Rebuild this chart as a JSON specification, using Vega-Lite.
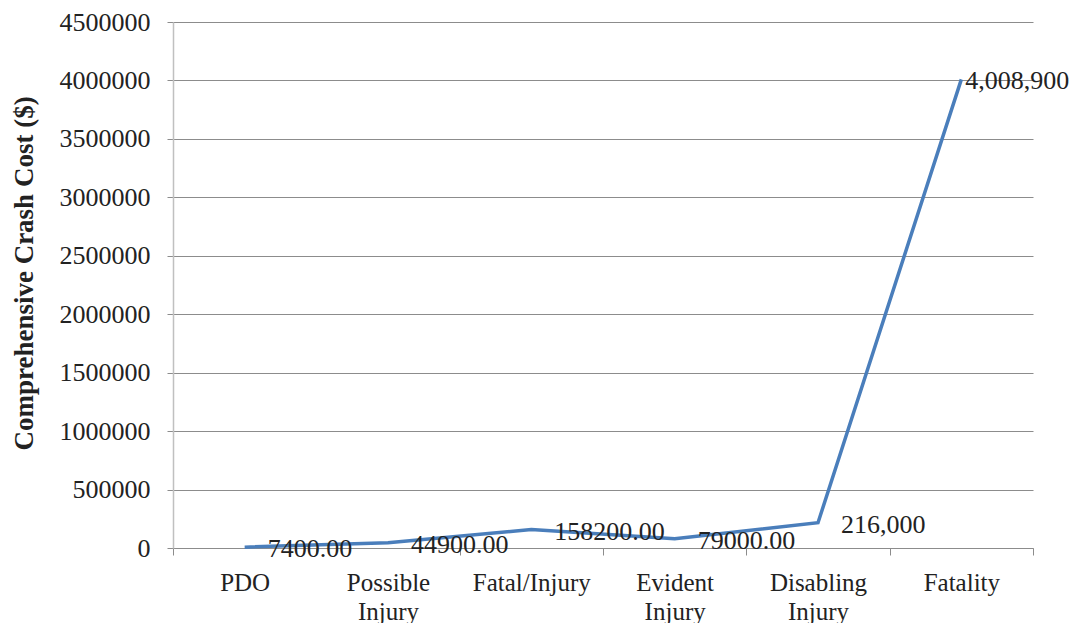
{
  "$schema": "https://vega.github.io/schema/vega-lite/v6.json",
  "width": 860,
  "height": 526,
  "autosize": {"type": "none"},
  "padding": {"left": 173, "top": 22, "right": 48, "bottom": 75},
  "background": "white",
  "config": {
    "view": {"stroke": null},
    "font": "'Times New Roman', 'Liberation Serif', Tinos, 'DejaVu Serif', serif"
  },
  "data": {
    "values": [
      {"category": "PDO", "cost": 7400, "label": "7400.00"},
      {"category": "Possible Injury", "cost": 44900, "label": "44900.00"},
      {"category": "Fatal/Injury", "cost": 158200, "label": "158200.00"},
      {"category": "Evident Injury", "cost": 79000, "label": "79000.00"},
      {"category": "Disabling Injury", "cost": 216000, "label": "216,000"},
      {"category": "Fatality", "cost": 4008900, "label": "4,008,900"}
    ]
  },
  "encoding": {
    "x": {
      "field": "category",
      "type": "nominal",
      "sort": null,
      "bandPosition": 0.5,
      "scale": {"type": "band", "paddingInner": 0, "paddingOuter": 0},
      "axis": {
        "title": null,
        "grid": false,
        "tickBand": "extent",
        "domainColor": "#8c8c8c",
        "tickColor": "#8c8c8c",
        "tickSize": 7,
        "labelAngle": 0,
        "labelFontSize": 25,
        "labelColor": "#222222",
        "labelPadding": 15,
        "labelLineHeight": 29,
        "labelExpr": "split(datum.label, ' ')"
      }
    },
    "y": {
      "field": "cost",
      "type": "quantitative",
      "scale": {"domain": [0, 4500000], "nice": false},
      "axis": {
        "title": "Comprehensive Crash Cost ($)",
        "titleFontSize": 27,
        "titleFontWeight": "bold",
        "titleColor": "#222222",
        "titleX": -149,
        "titleY": 251,
        "titleAngle": 270,
        "titleAlign": "center",
        "titleBaseline": "middle",
        "values": [0, 500000, 1000000, 1500000, 2000000, 2500000, 3000000, 3500000, 4000000, 4500000],
        "format": "d",
        "grid": true,
        "gridColor": "#8c8c8c",
        "gridWidth": 1,
        "domainColor": "#c0c0c0",
        "domainWidth": 1.5,
        "tickColor": "#8c8c8c",
        "tickSize": 6,
        "labelFontSize": 26,
        "labelColor": "#222222",
        "labelPadding": 17
      }
    }
  },
  "layer": [
    {
      "mark": {"type": "line", "color": "#4A7EBB", "strokeWidth": 3.5}
    },
    {
      "transform": [{"filter": "datum.category !== 'Fatality'"}],
      "mark": {"type": "text", "align": "left", "baseline": "middle", "dx": 23, "dy": 2, "fontSize": 26, "color": "#222222"},
      "encoding": {"text": {"field": "label", "type": "nominal"}}
    },
    {
      "transform": [{"filter": "datum.category === 'Fatality'"}],
      "mark": {"type": "text", "align": "left", "baseline": "middle", "dx": 4, "dy": 2, "fontSize": 26, "color": "#222222"},
      "encoding": {"text": {"field": "label", "type": "nominal"}}
    }
  ]
}
